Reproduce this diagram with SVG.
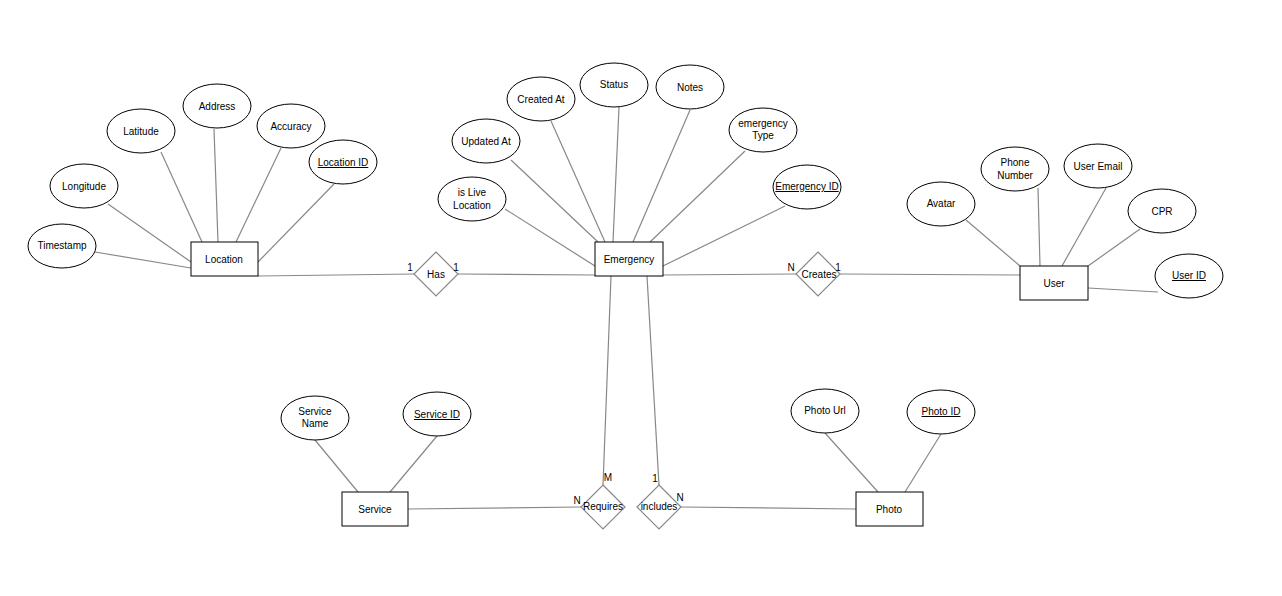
<svg xmlns="http://www.w3.org/2000/svg" width="1282" height="596" viewBox="0 0 1282 596">
<style>
.e{fill:#fff;stroke:#000;stroke-width:1}
.r{fill:#fff;stroke:#000;stroke-width:1}
.d{fill:#fff;stroke:#888;stroke-width:1.2}
.l{stroke:#888;stroke-width:1.2;fill:none}
text{font-family:"Liberation Sans",Arial,sans-serif;font-size:10px;text-anchor:middle;fill:#000}
.u{text-decoration:underline}
</style>
<rect width="1282" height="596" fill="#fff"/>
<g id="connectors">
<line class="l" x1="95" y1="252" x2="191" y2="268"/>
<line class="l" x1="108" y1="204" x2="191" y2="262"/>
<line class="l" x1="161" y1="152" x2="202" y2="242"/>
<line class="l" x1="214" y1="129" x2="218" y2="242"/>
<line class="l" x1="281" y1="148" x2="236" y2="242"/>
<line class="l" x1="334" y1="184" x2="258" y2="262"/>
<line class="l" x1="258" y1="276" x2="414" y2="274"/>
<line class="l" x1="458" y1="274" x2="595" y2="275"/>
<line class="l" x1="505" y1="209" x2="595" y2="266"/>
<line class="l" x1="511" y1="160" x2="598" y2="242"/>
<line class="l" x1="551" y1="121" x2="605" y2="242"/>
<line class="l" x1="619" y1="107" x2="613" y2="242"/>
<line class="l" x1="690" y1="110" x2="633" y2="242"/>
<line class="l" x1="745" y1="151" x2="650" y2="242"/>
<line class="l" x1="785" y1="206" x2="663" y2="266"/>
<line class="l" x1="663" y1="275" x2="796" y2="274"/>
<line class="l" x1="840" y1="274" x2="1020" y2="275"/>
<line class="l" x1="966" y1="220" x2="1020" y2="266"/>
<line class="l" x1="1038" y1="188" x2="1040" y2="266"/>
<line class="l" x1="1106" y1="188" x2="1062" y2="266"/>
<line class="l" x1="1140" y1="229" x2="1088" y2="266"/>
<line class="l" x1="1088" y1="288" x2="1158" y2="292"/>
<line class="l" x1="611" y1="276" x2="603" y2="485"/>
<line class="l" x1="647" y1="276" x2="659" y2="485"/>
<line class="l" x1="408" y1="509" x2="581" y2="507"/>
<line class="l" x1="681" y1="507" x2="856" y2="509"/>
<line class="l" x1="315" y1="440" x2="358" y2="492"/>
<line class="l" x1="437" y1="436" x2="390" y2="492"/>
<line class="l" x1="825" y1="433" x2="878" y2="492"/>
<line class="l" x1="941" y1="434" x2="905" y2="492"/>
</g>
<g id="Location"><rect class="r" x="191" y="242" width="67" height="34"/><text x="224" y="263">Location</text></g>
<g id="Emergency"><rect class="r" x="595" y="242" width="68" height="34"/><text x="629" y="263">Emergency</text></g>
<g id="User"><rect class="r" x="1020" y="266" width="68" height="34"/><text x="1054" y="287">User</text></g>
<g id="Service"><rect class="r" x="342" y="492" width="66" height="34"/><text x="375" y="513">Service</text></g>
<g id="Photo"><rect class="r" x="856" y="492" width="67" height="34"/><text x="889" y="513">Photo</text></g>
<g id="Has"><polygon class="d" points="436,252 458,274 436,296 414,274"/><text x="436" y="278">Has</text><text x="410" y="271">1</text><text x="456" y="271">1</text></g>
<g id="Creates"><polygon class="d" points="818,252 840,274 818,296 796,274"/><text x="819" y="278">Creates</text><text x="791" y="271">N</text><text x="838" y="271">1</text></g>
<g id="Requires"><polygon class="d" points="603,485 625,507 603,529 581,507"/><text x="603" y="510">Requires</text><text x="577" y="504">N</text><text x="608" y="481">M</text></g>
<g id="includes"><polygon class="d" points="659,485 681,507 659,529 637,507"/><text x="659" y="510">includes</text><text x="680" y="501">N</text><text x="655" y="482">1</text></g>
<g id="Timestamp"><ellipse class="e" cx="62" cy="246" rx="34" ry="22"/><text x="62" y="249">Timestamp</text></g>
<g id="Longitude"><ellipse class="e" cx="84" cy="186" rx="34" ry="22"/><text x="84" y="190">Longitude</text></g>
<g id="Latitude"><ellipse class="e" cx="141" cy="131" rx="34" ry="22"/><text x="141" y="135">Latitude</text></g>
<g id="Address"><ellipse class="e" cx="217" cy="106" rx="34" ry="22"/><text x="217" y="110">Address</text></g>
<g id="Accuracy"><ellipse class="e" cx="291" cy="126" rx="34" ry="22"/><text x="291" y="130">Accuracy</text></g>
<g id="LocationID"><ellipse class="e" cx="343" cy="162" rx="34" ry="22"/><text class="u" x="343" y="166">Location ID</text></g>
<g id="isLive"><ellipse class="e" cx="472" cy="199" rx="34" ry="22"/><text x="472" y="196">is Live</text><text x="472" y="209">Location</text></g>
<g id="UpdatedAt"><ellipse class="e" cx="486" cy="141" rx="34" ry="22"/><text x="486" y="145">Updated At</text></g>
<g id="CreatedAt"><ellipse class="e" cx="541" cy="99" rx="34" ry="22"/><text x="541" y="103">Created At</text></g>
<g id="Status"><ellipse class="e" cx="614" cy="85" rx="34" ry="22"/><text x="614" y="88">Status</text></g>
<g id="Notes"><ellipse class="e" cx="690" cy="87" rx="34" ry="22"/><text x="690" y="91">Notes</text></g>
<g id="emergencyType"><ellipse class="e" cx="763" cy="130" rx="34" ry="22"/><text x="763" y="127">emergency</text><text x="763" y="139">Type</text></g>
<g id="EmergencyID"><ellipse class="e" cx="807" cy="187" rx="34" ry="22"/><text class="u" x="807" y="190">Emergency ID</text></g>
<g id="Avatar"><ellipse class="e" cx="941" cy="204" rx="34" ry="22"/><text x="941" y="207">Avatar</text></g>
<g id="PhoneNumber"><ellipse class="e" cx="1015" cy="169" rx="34" ry="22"/><text x="1015" y="166">Phone</text><text x="1015" y="179">Number</text></g>
<g id="UserEmail"><ellipse class="e" cx="1098" cy="166" rx="34" ry="22"/><text x="1098" y="170">User Email</text></g>
<g id="CPR"><ellipse class="e" cx="1162" cy="211" rx="34" ry="22"/><text x="1162" y="215">CPR</text></g>
<g id="UserID"><ellipse class="e" cx="1189" cy="276" rx="34" ry="22"/><text class="u" x="1189" y="279">User ID</text></g>
<g id="ServiceName"><ellipse class="e" cx="315" cy="418" rx="34" ry="22"/><text x="315" y="415">Service</text><text x="315" y="427">Name</text></g>
<g id="ServiceID"><ellipse class="e" cx="437" cy="414" rx="34" ry="22"/><text class="u" x="437" y="418">Service ID</text></g>
<g id="PhotoUrl"><ellipse class="e" cx="825" cy="411" rx="34" ry="22"/><text x="825" y="414">Photo Url</text></g>
<g id="PhotoID"><ellipse class="e" cx="941" cy="412" rx="34" ry="22"/><text class="u" x="941" y="415">Photo ID</text></g>
</svg>
